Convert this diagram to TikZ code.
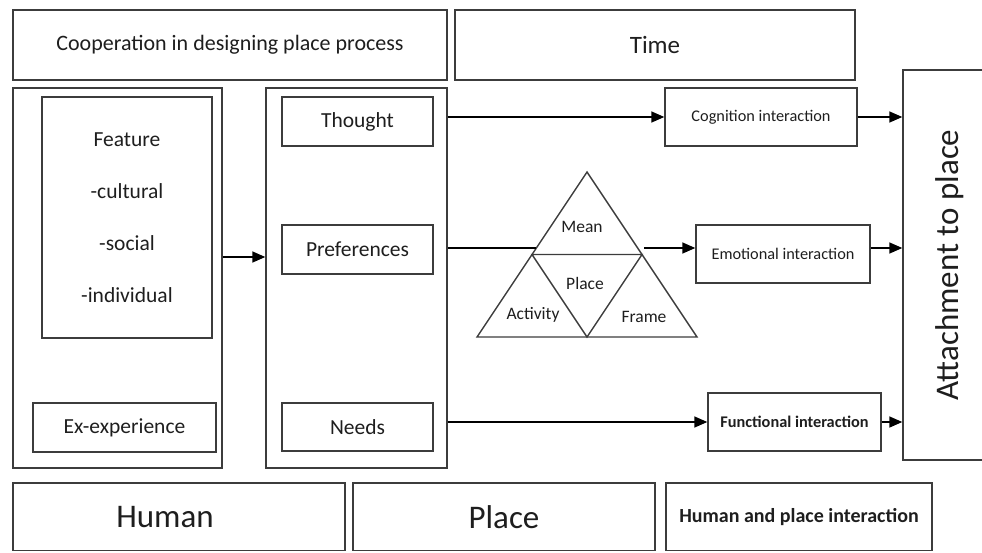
\documentclass[tikz,border=0pt]{standalone}
\usepackage{fontspec}
\setmainfont{Carlito}
\usetikzlibrary{arrows.meta}
\definecolor{edge}{HTML}{3C3C3C}
\definecolor{ink}{HTML}{1E1E1E}
\tikzset{
  box/.style={draw=edge, line width=1.4pt, inner sep=0pt, text=ink, align=center},
  lbl/.style={inner sep=0pt, text=ink, align=center},
  arr/.style={draw=black, line width=1.5pt, -{Triangle[length=13pt,width=11pt]}},
  ln/.style={draw=black, line width=1.4pt},
  fs/.style={font=\fontsize{#1}{#1}\selectfont},
  fsb/.style={font=\fontsize{#1}{#1}\selectfont\bfseries}
}
\begin{document}
\begin{tikzpicture}[x=1pt,y=-1pt]
\useasboundingbox (0,0) rectangle (982,552);
\clip (0,0) rectangle (982,552);
% top
\node[box, minimum width=434pt, minimum height=70pt, fs=22] (coop) at (230,45) {Cooperation in designing place process};
\node[box, minimum width=400pt, minimum height=70pt, fs=25] (time) at (655,45) {Time};
% human column
\node[box, minimum width=209pt, minimum height=380pt] (hout) at (117.5,278) {};
\node[box, minimum width=170pt, minimum height=241pt, font=\fontsize{21.5}{52}\selectfont] (feat) at (127,217.5) {Feature\\-cultural\\-social\\-individual};
\node[box, minimum width=183pt, minimum height=49pt, fs=21.5] (exexp) at (124.5,427.5) {Ex-experience};
% middle column
\node[box, minimum width=181pt, minimum height=380pt] (mid) at (356.5,278) {};
\node[box, minimum width=151pt, minimum height=49pt, fs=21.5] (thought) at (357.5,121.5) {Thought};
\node[box, minimum width=151pt, minimum height=49pt, fs=21.5] (pref) at (357.5,249.5) {Preferences};
\node[box, minimum width=151pt, minimum height=48pt, fs=21.5] (needs) at (357.5,427) {Needs};
% interactions
\node[box, minimum width=192pt, minimum height=58pt, fs=16.3] (cog) at (761,117) {Cognition interaction};
\node[box, minimum width=174pt, minimum height=58pt, fs=16.3] (emo) at (783,254) {Emotional interaction};
\node[box, minimum width=173pt, minimum height=58pt, fsb=16.3] (func) at (794.5,422) {Functional interaction};
% attachment
\node[box, minimum width=87pt, minimum height=390pt] (attach) at (946.5,265) {};
\node[lbl, rotate=90, fs=33] (attachT) at (950,265) {Attachment to place};
% bottom
\node[box, minimum width=332pt, minimum height=67.5pt] (human) at (179,516.75) {};
\node[lbl, fs=33] (humanT) at (165,517) {Human};
\node[box, minimum width=302pt, minimum height=67.5pt, fs=33] (place) at (504,516.75) {Place};
\node[box, minimum width=266pt, minimum height=67.5pt, fsb=20] (hpi) at (799,516.75) {Human and place interaction};
% triangle
\coordinate (tA) at (587,172);
\coordinate (tB) at (477,337);
\coordinate (tC) at (697,337);
\coordinate (tL) at (532,254.5);
\coordinate (tR) at (642,254.5);
\coordinate (tM) at (587,337);
\draw[edge, line width=1.4pt, line join=miter] (tA) -- (tB) -- (tC) -- cycle;
\draw[edge, line width=1.4pt] (tL) -- (tR) -- (tM) -- cycle;
\node[lbl, fs=17.5] (mean) at (582,227) {Mean};
\node[lbl, fs=17.5] (tplace) at (585,283) {Place};
\node[lbl, fs=17.5] (activity) at (533,315) {Activity};
\node[lbl, fs=17.5] (frame) at (644,317) {Frame};
\coordinate (prefEnd) at (536,248);
\coordinate (emoStart) at (644,248);
% connectors
\draw[arr] (hout.east |- 0,257) -- (mid.west |- 0,257);
\draw[arr] (mid.east |- cog.west) -- (cog.west);
\draw[arr] (cog.east) -- (cog.east -| attach.west);
\draw[ln] (mid.east |- prefEnd) -- (prefEnd);
\draw[arr] (emoStart) -- (emo.west |- emoStart);
\draw[arr] (emo.east |- emoStart) -- (attach.west |- emoStart);
\draw[arr] (mid.east |- func.west) -- (func.west);
\draw[arr] (func.east) -- (func.east -| attach.west);
\end{tikzpicture}
\end{document}
